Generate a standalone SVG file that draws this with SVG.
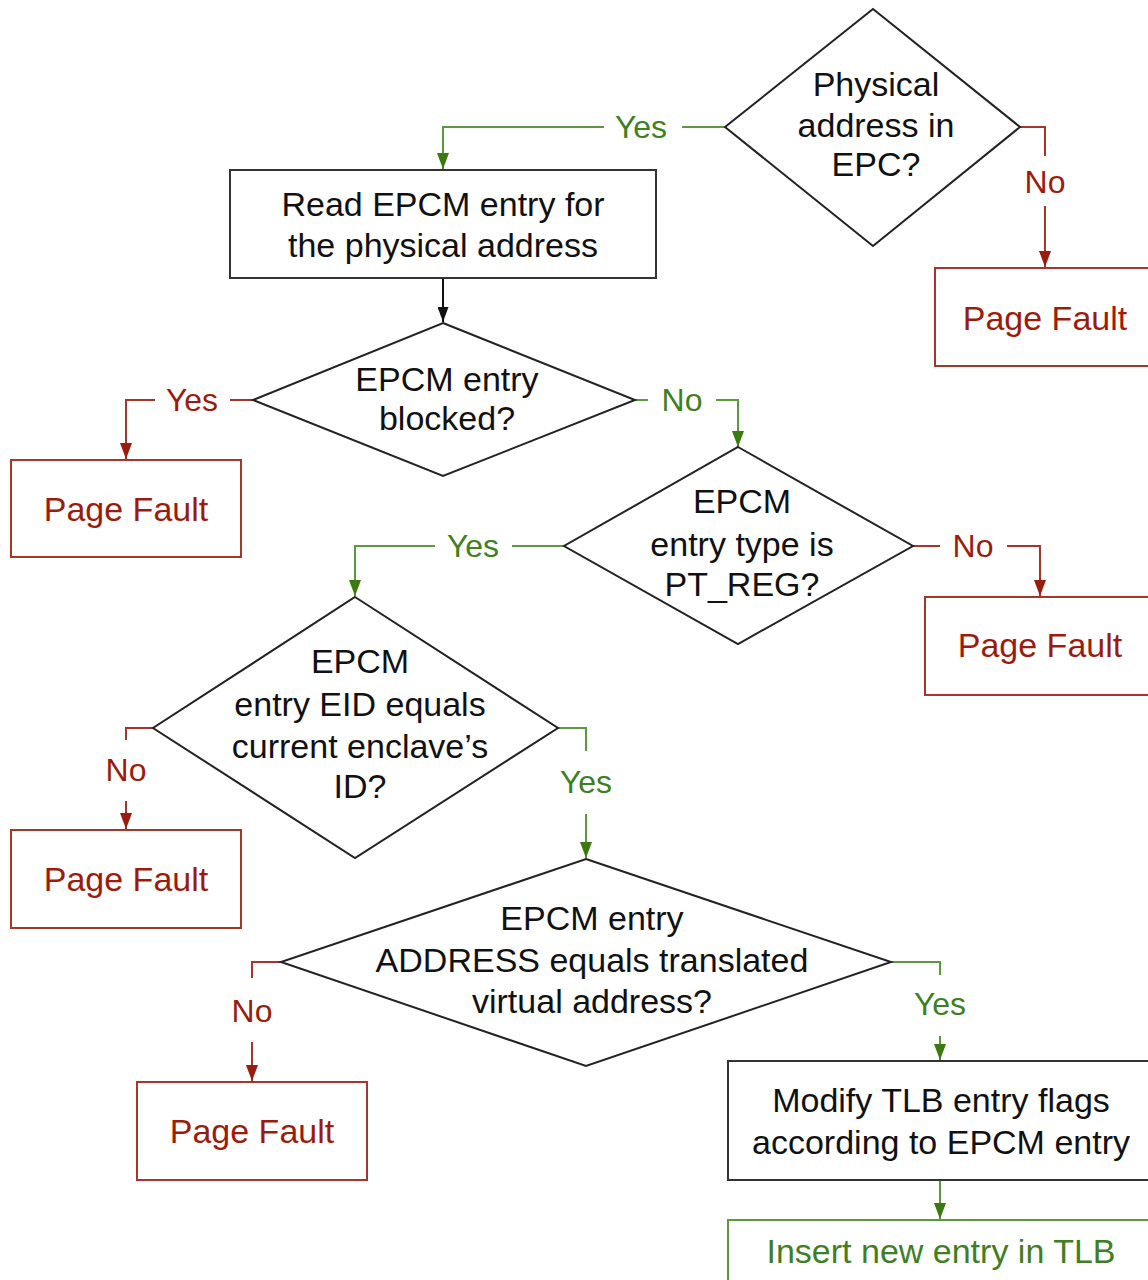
<svg xmlns="http://www.w3.org/2000/svg" width="1148" height="1280" viewBox="0 0 1148 1280">
<style>
text{font-family:"Liberation Sans",Arial,sans-serif;font-size:34px;text-anchor:middle}
.t{fill:#111}
.r{fill:#9b1c0c}
.g{fill:#3f7f1f}
.lab{font-size:32px}
.d{fill:#fff;stroke:#222;stroke-width:2}
.bk{fill:#fff;stroke:#333;stroke-width:2}
.br{fill:#fff;stroke:#a5362a;stroke-width:2}
.bg{fill:#fff;stroke:#5a9a3a;stroke-width:2}
.cr{fill:none;stroke:#a5362a;stroke-width:2}
.cg{fill:none;stroke:#5a9a3a;stroke-width:2}
.ck{fill:none;stroke:#111;stroke-width:2}
</style>
<defs>
<marker id="ag" viewBox="0 0 16 12" refX="16" refY="6" markerWidth="16" markerHeight="12" markerUnits="userSpaceOnUse" orient="auto"><path d="M0,0 L16,6 L0,12 z" fill="#3a7a10"/></marker>
<marker id="ar2" viewBox="0 0 16 12" refX="16" refY="6" markerWidth="16" markerHeight="12" markerUnits="userSpaceOnUse" orient="auto"><path d="M0,0 L16,6 L0,12 z" fill="#9b1c0c"/></marker>
<marker id="ak" viewBox="0 0 15 11" refX="15" refY="5.5" markerWidth="15" markerHeight="11" markerUnits="userSpaceOnUse" orient="auto"><path d="M0,0 L15,5.5 L0,11 z" fill="#111"/></marker>
</defs>

<g id="connectors">
<path class="cg" d="M725,127 H682"/>
<path class="cg" d="M604,127 H443 V169" marker-end="url(#ag)"/>
<path class="cr" d="M1020,127 H1045 V156"/>
<path class="cr" d="M1045,206 V267" marker-end="url(#ar2)"/>
<path class="ck" d="M443,278 V322" marker-end="url(#ak)"/>
<path class="cr" d="M253,400 H230"/>
<path class="cr" d="M155,400 H126 V459" marker-end="url(#ar2)"/>
<path class="cg" d="M635,400 H648"/>
<path class="cg" d="M716,400 H738 V447" marker-end="url(#ag)"/>
<path class="cr" d="M913,546 H940"/>
<path class="cr" d="M1007,546 H1040 V596" marker-end="url(#ar2)"/>
<path class="cg" d="M564,546 H512"/>
<path class="cg" d="M435,546 H355 V596" marker-end="url(#ag)"/>
<path class="cr" d="M153,728 H126 V740"/>
<path class="cr" d="M126,801 V829" marker-end="url(#ar2)"/>
<path class="cg" d="M558,728 H586 V751"/>
<path class="cg" d="M586,814 V858" marker-end="url(#ag)"/>
<path class="cr" d="M281,962 H252 V978"/>
<path class="cr" d="M252,1042 V1081" marker-end="url(#ar2)"/>
<path class="cg" d="M891,962 H940 V975"/>
<path class="cg" d="M940,1036 V1060" marker-end="url(#ag)"/>
<path class="cg" d="M940,1180 V1219" marker-end="url(#ag)"/>
<text class="g lab" x="641" y="138">Yes</text>
<text class="r lab" x="1045" y="193">No</text>
<text class="r lab" x="192" y="411">Yes</text>
<text class="g lab" x="682" y="411">No</text>
<text class="r lab" x="973" y="557">No</text>
<text class="g lab" x="473" y="557">Yes</text>
<text class="r lab" x="126" y="781">No</text>
<text class="g lab" x="586" y="793">Yes</text>
<text class="r lab" x="252" y="1022">No</text>
<text class="g lab" x="940" y="1015">Yes</text>
</g>

<g id="d1">
<polygon class="d" points="873,9 1020,127 873,246 725,127"/>
<text class="t" x="876" y="96">Physical</text>
<text class="t" x="876" y="137">address in</text>
<text class="t" x="876" y="176">EPC?</text>
</g>

<g id="pf1">
<rect class="br" x="935" y="268" width="216" height="98"/>
<text class="r" x="1045" y="330">Page Fault</text>
</g>

<g id="read">
<rect class="bk" x="230" y="170" width="426" height="108"/>
<text class="t" x="443" y="216">Read EPCM entry for</text>
<text class="t" x="443" y="257">the physical address</text>
</g>

<g id="d2">
<polygon class="d" points="443,323 635,400 443,476 253,400"/>
<text class="t" x="447" y="391">EPCM entry</text>
<text class="t" x="447" y="430">blocked?</text>
</g>

<g id="pf2">
<rect class="br" x="11" y="460" width="230" height="97"/>
<text class="r" x="126" y="521">Page Fault</text>
</g>

<g id="d3">
<polygon class="d" points="738,447 913,546 738,644 564,546"/>
<text class="t" x="742" y="513">EPCM</text>
<text class="t" x="742" y="556">entry type is</text>
<text class="t" x="742" y="596">PT_REG?</text>
</g>

<g id="pf3">
<rect class="br" x="925" y="597" width="226" height="98"/>
<text class="r" x="1040" y="657">Page Fault</text>
</g>

<g id="d4">
<polygon class="d" points="355,597 558,728 355,858 153,728"/>
<text class="t" x="360" y="673">EPCM</text>
<text class="t" x="360" y="716">entry EID equals</text>
<text class="t" x="360" y="758">current enclave’s</text>
<text class="t" x="360" y="798">ID?</text>
</g>

<g id="pf4">
<rect class="br" x="11" y="830" width="230" height="98"/>
<text class="r" x="126" y="891">Page Fault</text>
</g>

<g id="d5">
<polygon class="d" points="586,859 891,962 586,1066 281,962"/>
<text class="t" x="592" y="930">EPCM entry</text>
<text class="t" x="592" y="972">ADDRESS equals translated</text>
<text class="t" x="592" y="1013">virtual address?</text>
</g>

<g id="pf5">
<rect class="br" x="137" y="1082" width="230" height="98"/>
<text class="r" x="252" y="1143">Page Fault</text>
</g>

<g id="modify">
<rect class="bk" x="728" y="1061" width="424" height="119"/>
<text class="t" x="941" y="1112">Modify TLB entry flags</text>
<text class="t" x="941" y="1154">according to EPCM entry</text>
</g>

<g id="insert">
<rect class="bg" x="728" y="1220" width="424" height="64"/>
<text class="g" x="941" y="1263">Insert new entry in TLB</text>
</g>
</svg>
